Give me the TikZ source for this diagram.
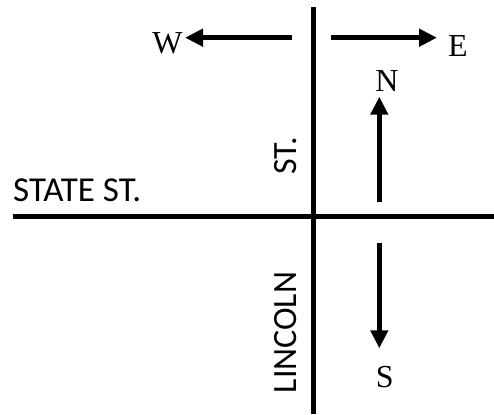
\documentclass[tikz,border=0pt]{standalone}
\usepackage{fontspec}
\setmainfont{Liberation Serif}
\newfontfamily\streetfont{Carlito}
\usetikzlibrary{arrows.meta}

\begin{document}
\begin{tikzpicture}[x=1pt, y=1pt,
    road/.style = {line width=5pt},
    pointer/.style = {line width=5pt, -{Triangle[length=18pt, width=17pt]}},
    dirlabel/.style = {font=\fontsize{32}{32}\selectfont, inner sep=0pt},
    streetlabel/.style = {font=\streetfont\fontsize{34}{34}\selectfont, inner sep=0pt}]
  \useasboundingbox (0,0) rectangle (494,414);

  % roads
  \coordinate (lincolnTop) at (313.5,406.7);
  \coordinate (lincolnBot) at (313.5,0);
  \coordinate (stateW) at (12.7,197.7);
  \coordinate (stateE) at (494,197.7);
  \draw[road] (lincolnTop) -- (lincolnBot);
  \draw[road] (stateW) -- (stateE);

  % compass arrows
  \coordinate (wStart) at (291.7,376.3);
  \coordinate (wEnd) at (185,376.3);
  \coordinate (eStart) at (331,376.3);
  \coordinate (eEnd) at (437,376.3);
  \coordinate (nStart) at (379.3,212.3);
  \coordinate (nEnd) at (379.3,317.3);
  \coordinate (sStart) at (379.3,171.3);
  \coordinate (sEnd) at (379.3,65.7);
  \draw[pointer] (wStart) -- (wEnd);
  \draw[pointer] (eStart) -- (eEnd);
  \draw[pointer] (nStart) -- (nEnd);
  \draw[pointer] (sStart) -- (sEnd);

  \node[dirlabel] (west) at (167.5,370.5) {W};
  \node[dirlabel] (east) at (458,367.5) {E};
  \node[dirlabel] (north) at (387,333) {N};
  \node[dirlabel] (south) at (384.7,36.5) {S};

  % street names
  \node[streetlabel, font=\streetfont\fontsize{35}{35}\selectfont, anchor=base west] (state) at (13,212) {STATE ST.};
  \node[streetlabel, rotate=90] (st) at (286,258) {ST.};
  \node[streetlabel, rotate=90] (lincoln) at (286,81.5) {LINCOLN};
\end{tikzpicture}
\end{document}
